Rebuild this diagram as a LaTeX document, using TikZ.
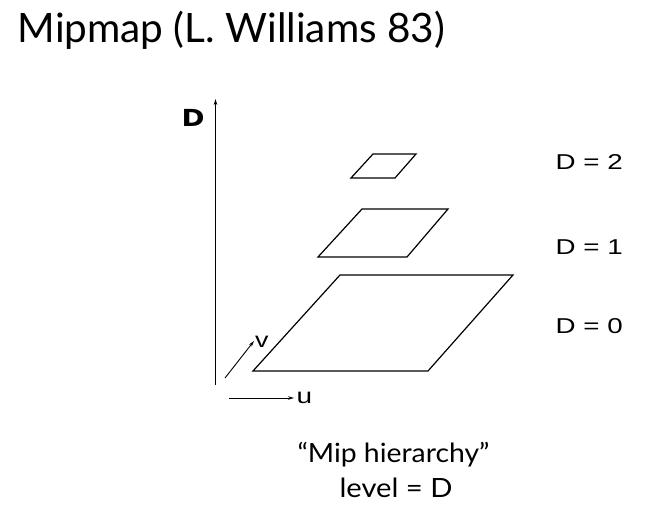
\documentclass[tikz,border=0pt]{standalone}
\usepackage{fontspec}
\setmainfont{Lato}
\newfontfamily\arialfont{Liberation Sans}
\newfontfamily\heavyfont{DejaVu Sans}
\usetikzlibrary{positioning, arrows.meta, calc}
\newcommand{\hstretch}[2]{\scalebox{#1}[1]{#2}}

\begin{document}
\begin{tikzpicture}[
    x=1pt, y=-1pt,
    level/.style={draw, line width=1.2pt, line join=miter},
    axis/.style={-{Stealth[length=6pt, width=3.5pt]}, line width=0.9pt},
    label/.style={inner sep=0pt, anchor=base west, font=\arialfont\fontsize{21.5}{24}\selectfont},
    caption/.style={inner sep=0pt, anchor=base, font=\fontsize{26.5}{30}\selectfont},
]
\useasboundingbox (0,0) rectangle (649,508);

% Title
\node[inner sep=0pt, anchor=base west, font=\fontsize{40.5}{46}\selectfont] (title) at (17.5,43) {Mipmap (L. Williams 83)};

% Axes
\coordinate (dbot) at (215.5,385);
\coordinate (dtop) at (215.5,99);
\draw[axis] (dbot) -- (dtop);
\coordinate (vbot) at (225,378);
\coordinate (vtop) at (254,341);
\draw[axis] (vbot) -- (vtop);
\coordinate (ubot) at (229,398);
\coordinate (utop) at (294,398);
\draw[axis] (ubot) -- (utop);

\node[label, font=\heavyfont\bfseries\fontsize{23.5}{26}\selectfont] (dname) at (181.5,127) {\hstretch{1.18}{D}};
\node[label] (vname) at (255,348) {\hstretch{1.25}{v}};
\node[label] (uname) at (296.5,403) {\hstretch{1.3}{u}};

% Mip levels
\coordinate (l0a) at (253,371); \coordinate (l0b) at (428,371);
\coordinate (l0c) at (513,275); \coordinate (l0d) at (340,275);
\draw[level] (l0a) -- (l0b) -- (l0c) -- (l0d) -- cycle;

\coordinate (l1a) at (318,257); \coordinate (l1b) at (407,257);
\coordinate (l1c) at (448,209); \coordinate (l1d) at (362,209);
\draw[level] (l1a) -- (l1b) -- (l1c) -- (l1d) -- cycle;

\coordinate (l2a) at (351,178); \coordinate (l2b) at (395,178);
\coordinate (l2c) at (416,154); \coordinate (l2d) at (373,154);
\draw[level] (l2a) -- (l2b) -- (l2c) -- (l2d) -- cycle;

% Level labels
\node[label] (dtwo) at (555.5,170) {\hstretch{1.29}{D = 2}};
\node[label] (done) at (555.5,255) {\hstretch{1.29}{D = 1}};
\node[label] (dzero) at (555.5,334) {\hstretch{1.29}{D = 0}};

% Caption
\node[caption] (cap1) at (393.5,462) {\hstretch{1.07}{“Mip hierarchy”}};
\node[caption] (cap2) at (396,497) {\hstretch{1.1}{level = D}};

\end{tikzpicture}
\end{document}
